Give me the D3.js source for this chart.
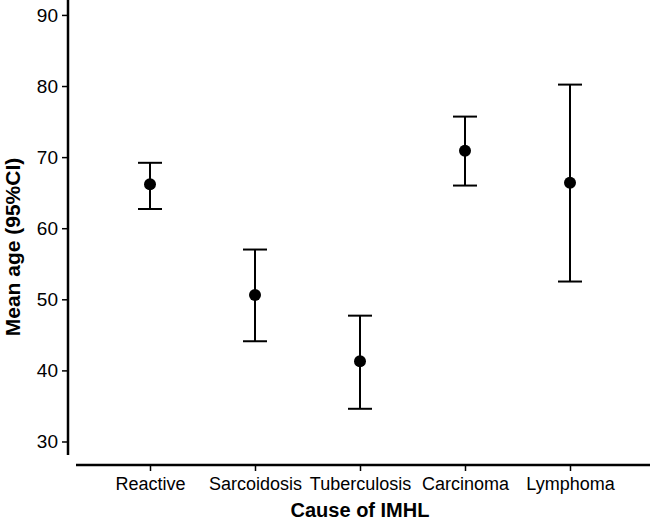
<!DOCTYPE html>
<html>
<head>
<meta charset="utf-8">
<script src="https://cdn.jsdelivr.net/npm/d3@7"></script>
<style>
  body { margin: 0; background: #fff; }
  text { font-family: "Liberation Sans", Arial, sans-serif; fill: #000; }
</style>
</head>
<body>
<script>
const causes = ["Reactive", "Sarcoidosis", "Tuberculosis", "Carcinoma", "Lymphoma"];
const meanAge = [66.2, 50.6, 41.3, 70.9, 66.4];
const ciLow = [62.7, 44.1, 34.6, 66.0, 52.5];
const ciHigh = [69.2, 57.0, 47.7, 75.7, 80.2];
const yTicks = [30, 40, 50, 60, 70, 80, 90];

const width = 650, height = 521,
  axisX = 68, axisY = 465,
  capHalf = 12, dotRadius = 6;

const svg = d3.select("body").append("svg")
  .attr("width", width)
  .attr("height", height);

const y = d3.scaleLinear().domain([28.1, 92.1]).range([455, 0]);
const x = d3.scalePoint().domain(causes).range([150, 570]);

const rows = causes.map((c, i) => ({ cause: c, mean: meanAge[i], lo: ciLow[i], hi: ciHigh[i] }));

// y axis
const yAxis = svg.append("g")
  .attr("transform", `translate(${axisX},0)`)
  .call(d3.axisLeft(y).tickValues(yTicks).tickSize(6).tickPadding(4));
yAxis.select(".domain").remove();
yAxis.selectAll(".tick line").attr("stroke", "#000").attr("stroke-width", 1.5);
yAxis.selectAll(".tick text").attr("font-size", 19).attr("font-family", "Liberation Sans, Arial, sans-serif");
yAxis.append("line")
  .attr("x1", 0).attr("x2", 0)
  .attr("y1", y(92.1)).attr("y2", y(28.1))
  .attr("stroke", "#000").attr("stroke-width", 2.5);

// x axis
const xAxis = svg.append("g")
  .attr("transform", `translate(0,${axisY})`)
  .call(d3.axisBottom(x).tickSize(6).tickPadding(6));
xAxis.select(".domain").remove();
xAxis.selectAll(".tick line").attr("stroke", "#000").attr("stroke-width", 1.5);
xAxis.selectAll(".tick text").attr("font-size", 18).attr("font-family", "Liberation Sans, Arial, sans-serif");
xAxis.append("line")
  .attr("x1", 76).attr("x2", width)
  .attr("y1", 0).attr("y2", 0)
  .attr("stroke", "#000").attr("stroke-width", 2.5);

// axis titles
svg.append("text")
  .attr("x", 360).attr("y", 517)
  .attr("text-anchor", "middle")
  .attr("font-size", 20).attr("font-weight", "bold")
  .text("Cause of IMHL");

svg.append("text")
  .attr("transform", `translate(20,247) rotate(-90)`)
  .attr("text-anchor", "middle")
  .attr("font-size", 21).attr("font-weight", "bold")
  .text("Mean age (95%CI)");

// error bars
const bars = svg.append("g")
  .attr("stroke", "#000")
  .attr("stroke-width", 2)
  .selectAll("g")
  .data(rows)
  .join("g");

bars.append("line")
  .attr("x1", (d) => x(d.cause)).attr("x2", (d) => x(d.cause))
  .attr("y1", (d) => y(d.hi)).attr("y2", (d) => y(d.lo));
bars.append("line")
  .attr("x1", (d) => x(d.cause) - capHalf).attr("x2", (d) => x(d.cause) + capHalf)
  .attr("y1", (d) => y(d.hi)).attr("y2", (d) => y(d.hi));
bars.append("line")
  .attr("x1", (d) => x(d.cause) - capHalf).attr("x2", (d) => x(d.cause) + capHalf)
  .attr("y1", (d) => y(d.lo)).attr("y2", (d) => y(d.lo));

svg.append("g")
  .selectAll("circle")
  .data(rows)
  .join("circle")
  .attr("cx", (d) => x(d.cause))
  .attr("cy", (d) => y(d.mean))
  .attr("r", dotRadius)
  .attr("fill", "#000");
</script>
</body>
</html>
